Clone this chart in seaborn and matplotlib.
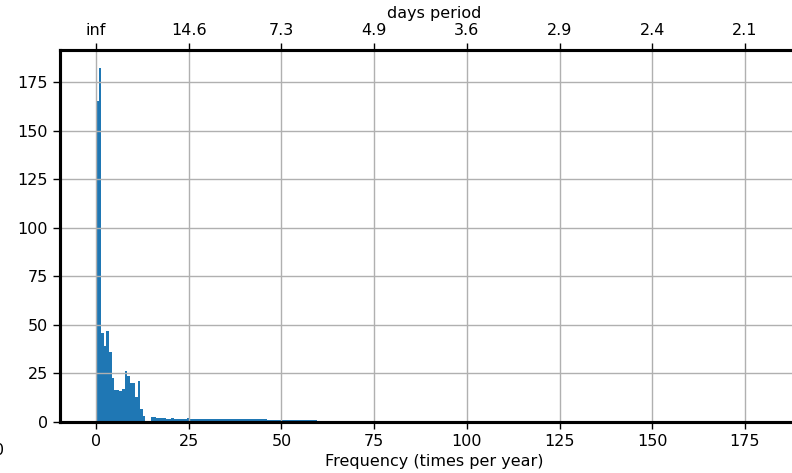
import numpy as np
import pandas as pd
import matplotlib
matplotlib.use("Agg")
import matplotlib.pyplot as plt
import seaborn as sns

# ---- data ----
bin_width = 0.7  # frequency step (times per year)
amplitude = [
    165, 182, 46, 39, 47, 36, 22.5, 16.5, 16.5, 16, 17, 26.4, 23.7, 20, 20, 13, 21, 6.5, 3, 0, 0,
    2.5, 2.4, 2.3, 2.2, 2.0,
    1.9, 1.8, 1.8, 1.9, 1.8, 1.8, 1.7, 1.8, 1.8, 1.9, 1.8, 1.8, 1.7, 1.8, 1.8, 1.8, 1.7, 1.7, 1.8, 1.7, 1.7, 1.7, 1.6, 1.6,
    1.4, 1.4, 1.4, 1.4, 1.4, 1.4, 1.4, 1.4, 1.4, 1.4, 1.4, 1.4, 1.4, 1.4, 1.4, 1.4,
    1.0, 1.0, 1.0, 1.0, 1.0, 1.0, 1.0, 1.0, 1.0, 1.0, 1.0, 1.0, 1.0, 1.0, 1.0, 1.0, 1.0, 1.0, 1.0,
]
freq_ticks = [0, 25, 50, 75, 100, 125, 150, 175]
days_per_year = 365
y_ticks = [0, 25, 50, 75, 100, 125, 150, 175]

n = len(amplitude)
freq = (np.arange(n) + 0.5) * bin_width
df = pd.DataFrame({"freq": freq, "amp": amplitude})

FS = 11.5
plt.rcParams["font.family"] = ["DejaVu Sans"]

fig = plt.figure(figsize=(7.92, 4.73), dpi=100)
ax = fig.add_axes([60 / 792, 51 / 473, 748 / 792, 372 / 473])

sns.histplot(data=df, x="freq", weights="amp", binwidth=bin_width,
             binrange=(0, n * bin_width), ax=ax,
             color="#1f77b4", alpha=1.0, linewidth=0, edgecolor="none")

ax.set_xlim(-9.71, 192.0)
ax.set_ylim(0, 191.5)
ax.set_xticks(freq_ticks)
ax.set_yticks(y_ticks)
ax.grid(True, color="#b0b0b0", linewidth=1.0)
ax.set_xlabel("Frequency (times per year)", fontsize=FS, labelpad=4)
ax.set_ylabel("")
ax.tick_params(labelsize=FS, length=5, width=1)
for s in ax.spines.values():
    s.set_linewidth(2.2)

ax2 = ax.twiny()
ax2.set_xlim(ax.get_xlim())
ax2.set_xticks(freq_ticks)
ax2.set_xticklabels(["inf" if f == 0 else f"{days_per_year / f:.1f}" for f in freq_ticks])
ax2.tick_params(labelsize=FS, length=5, width=1)
ax2.set_xlabel("days period", fontsize=FS, labelpad=4)
for s in ax2.spines.values():
    s.set_linewidth(2.2)

fig.text(-1 / 792, 23 / 473, "0", ha="center", va="center", fontsize=FS)

fig.savefig("out.png", dpi=100)
